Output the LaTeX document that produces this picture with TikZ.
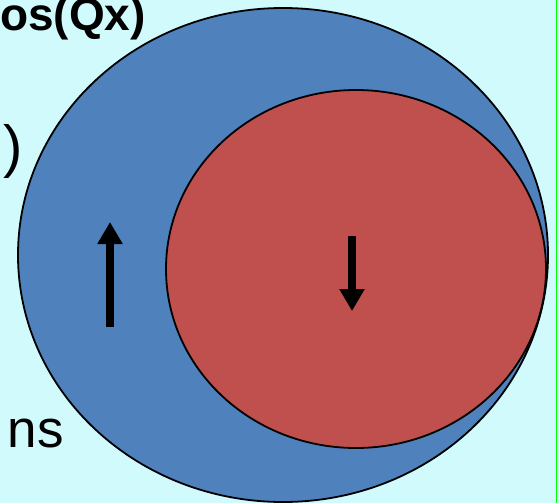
\documentclass[tikz,border=0pt]{standalone}
\usepackage{fontspec}
\setmainfont{Liberation Sans}
\usetikzlibrary{arrows.meta}
\definecolor{bgcyan}{RGB}{208,250,252}
\definecolor{blueA}{RGB}{79,129,189}
\definecolor{redA}{RGB}{192,80,77}
\definecolor{greenL}{RGB}{0,255,0}
\tikzset{
  blob/.style={draw=black, line width=1.8pt},
  bigarrow/.style={line width=8pt, -{Triangle[width=24pt,length=22pt]}},
  lbl/.style={inner sep=0pt, anchor=base east, text=black}
}
\begin{document}
\begin{tikzpicture}[x=1pt,y=-1pt]
\useasboundingbox (0,0) rectangle (559,503);
\fill[bgcyan] (0,0) rectangle (559,503);
\begin{scope}
\clip (0,0) rectangle (559,503);
\draw[blob, fill=blueA] (283,255) ellipse [x radius=265, y radius=247];
\draw[blob, fill=redA] (356,269) ellipse [x radius=190, y radius=179];
\node[lbl, font=\bfseries\fontsize{46}{46}\selectfont] (t1) at (146,31) {os(Qx)};
\node[lbl, font=\fontsize{58}{58}\selectfont] (t2) at (23,166) {)};
\node[lbl, font=\fontsize{53}{53}\selectfont] (t3) at (64,447) {ns};
\end{scope}
\coordinate (u1) at (110,327);
\coordinate (u2) at (110,222);
\coordinate (d1) at (352,236);
\coordinate (d2) at (352,311);
\draw[bigarrow] (u1) -- (u2);
\draw[bigarrow] (d1) -- (d2);
\coordinate (g1) at (556.5,0);
\coordinate (g2) at (556.5,503);
\draw[greenL, line width=1.6pt] (g1) -- (g2);
\end{tikzpicture}
\end{document}
